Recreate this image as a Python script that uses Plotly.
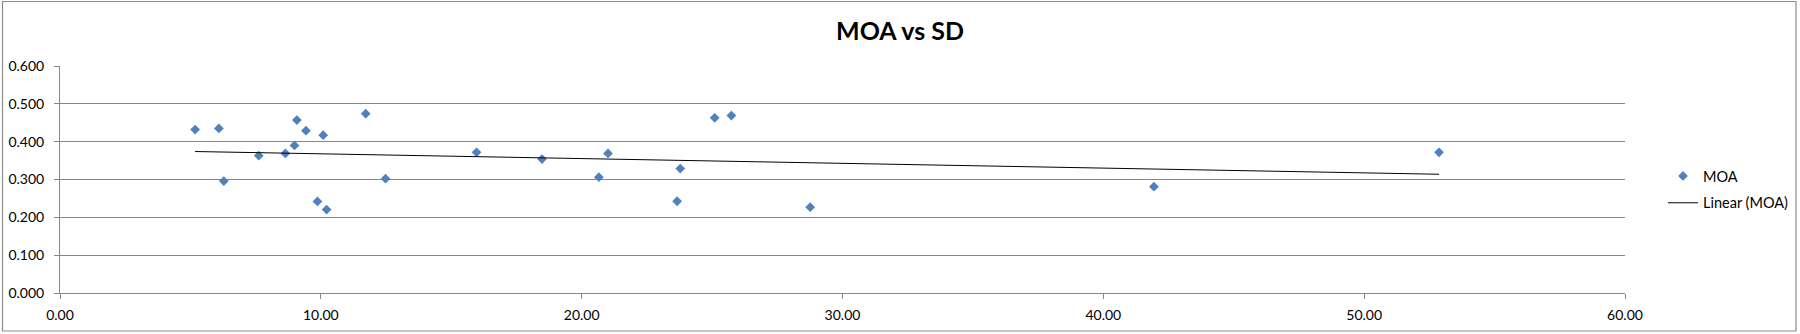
import numpy as np
import plotly.graph_objects as go

# Shot group data: standard deviation (x) vs group size in MOA (y)
sd = [5.18, 6.09, 6.28, 7.62, 8.64, 8.99, 9.08, 9.43, 9.87, 10.09, 10.22, 11.72,
      12.48, 15.97, 18.48, 20.66, 21.01, 23.66, 23.78, 25.10, 25.74, 28.76, 41.94, 52.87]
moa = [0.432, 0.435, 0.296, 0.363, 0.369, 0.390, 0.457, 0.429, 0.242, 0.417, 0.2205, 0.474,
       0.302, 0.372, 0.354, 0.306, 0.369, 0.2425, 0.329, 0.463, 0.469, 0.2267, 0.281, 0.372]

x_ticks = [0, 10, 20, 30, 40, 50, 60]
y_ticks = [0.0, 0.1, 0.2, 0.3, 0.4, 0.5, 0.6]

W, H = 1800, 334
L, R, T, B = 60, 175, 66, 41
PW, PH = W - L - R, H - T - B

GRID = "#868686"
BLUE = "#4F81BD"
FONT = "Lato, Carlito, 'Liberation Sans', sans-serif"
TICK_SIZE = 14

# Least-squares linear trend across the observed SD range
slope, intercept = np.polyfit(sd, moa, 1)
trend_x = [min(sd), max(sd)]
trend_y = [slope * v + intercept for v in trend_x]


def px_to_paper_x(px):
    return (px - L) / PW


def px_to_paper_y(py):
    return (H - B - py) / PH


fig = go.Figure()
fig.add_trace(go.Scatter(
    x=sd, y=moa, mode="markers", name="MOA",
    marker=dict(symbol="diamond", size=7.5, color=BLUE, line=dict(width=0)),
    legendgroup="a", cliponaxis=False,
))
fig.add_trace(go.Scatter(
    x=trend_x, y=trend_y, mode="lines", name="Linear (MOA)",
    line=dict(color="#000000", width=1),
    legendgroup="b",
))

fig.update_layout(
    width=W, height=H,
    margin=dict(l=L, r=R, t=T, b=B, pad=0, autoexpand=False),
    paper_bgcolor="white", plot_bgcolor="white",
    font=dict(family=FONT, size=TICK_SIZE, color="#000000"),
    title=dict(text="<b>MOA vs SD</b>", x=0.5, xref="container", xanchor="center",
               y=1 - 31.5 / H, yref="container", yanchor="middle",
               font=dict(family=FONT, size=25, color="#000000")),
    showlegend=True,
    legend=dict(x=1663 / W, xref="container", xanchor="left",
                y=1 - 160 / H, yref="container", yanchor="top",
                font=dict(family=FONT, size=14.5, color="#000000"),
                bgcolor="rgba(0,0,0,0)", borderwidth=0,
                tracegroupgap=5, itemwidth=30),
    xaxis=dict(range=[0, 60], tickvals=x_ticks, tickformat=".2f",
               showgrid=False, zeroline=False, automargin=False,
               showline=True, linecolor=GRID, linewidth=1,
               ticks="outside", ticklen=5, tickcolor=GRID, tickwidth=1,
               ticklabelstandoff=4,
               tickfont=dict(family=FONT, size=TICK_SIZE, color="#000000")),
    yaxis=dict(range=[0, 0.6], tickvals=y_ticks, tickformat=".3f",
               showgrid=True, gridcolor=GRID, gridwidth=1, zeroline=False,
               automargin=False,
               showline=True, linecolor=GRID, linewidth=1,
               ticks="outside", ticklen=5, tickcolor=GRID, tickwidth=1,
               ticklabelstandoff=7,
               tickfont=dict(family=FONT, size=TICK_SIZE, color="#000000")),
    shapes=[dict(type="rect", xref="paper", yref="paper", layer="above",
                 x0=px_to_paper_x(2.5), x1=px_to_paper_x(1796),
                 y0=px_to_paper_y(331), y1=px_to_paper_y(1.5),
                 line=dict(color="#8c8c8c", width=1.2), fillcolor="rgba(0,0,0,0)")],
)

fig.write_html("out.html")
